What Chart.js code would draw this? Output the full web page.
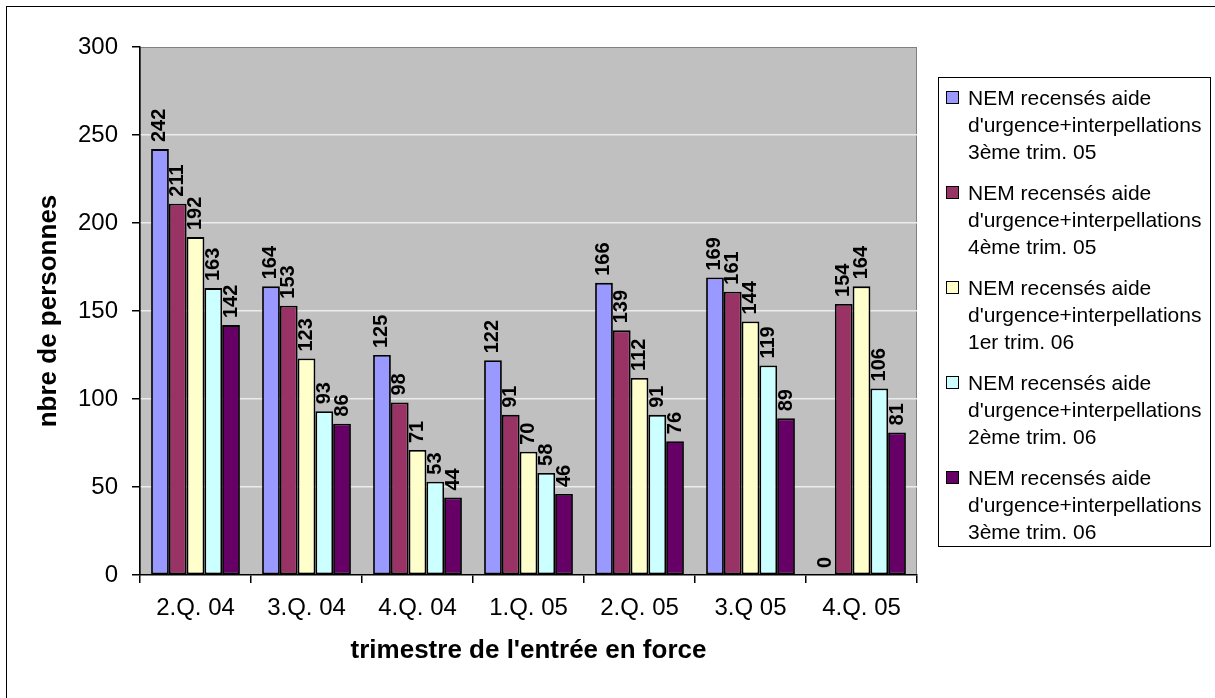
<!DOCTYPE html>
<html>
<head>
<meta charset="utf-8">
<script src="https://cdn.jsdelivr.net/npm/chart.js@4"></script>
<style>
  html, body { margin: 0; padding: 0; background: #fff; overflow: hidden; }
  body { width: 1215px; height: 698px; position: relative; font-family: 'Liberation Sans', Arial, sans-serif; }
  .frame { position: absolute; left: 6px; top: 6px; width: 1230px; height: 720px; border: 1.5px solid #000; }
  canvas { position: absolute; left: 0; top: 0; }
  .legend {
    position: absolute; left: 938px; top: 77px; width: 273px; height: 470px;
    box-sizing: border-box; border: 1px solid #000; background: #fff;
    padding: 6px 0 0 0;
  }
  .legend .item { position: relative; padding-left: 29px; width: 244px; font-size: 21px; line-height: 27px; color: #000; margin-bottom: 14px; }
  .legend .sw { position: absolute; left: 7px; top: 7px; width: 11px; height: 11px; border: 1px solid #000; }
</style>
</head>
<body>
<div class="frame"></div>
<canvas id="myChart" width="1215" height="698"></canvas>
<div class="legend" id="legend"></div>

<script>
const quarters = ['2.Q. 04', '3.Q. 04', '4.Q. 04', '1.Q. 05', '2.Q. 05', '3.Q 05', '4.Q. 05']

const seriesNames = [
    "NEM recensés aide d'urgence+interpellations 3ème trim. 05",
    "NEM recensés aide d'urgence+interpellations 4ème trim. 05",
    "NEM recensés aide d'urgence+interpellations 1er trim. 06",
    "NEM recensés aide d'urgence+interpellations 2ème trim. 06",
    "NEM recensés aide d'urgence+interpellations 3ème trim. 06"
]

const trim3_05 = [242, 164, 125, 122, 166, 169, 0]
const trim4_05 = [211, 153, 98, 91, 139, 161, 154]
const trim1_06 = [192, 123, 71, 70, 112, 144, 164]
const trim2_06 = [163, 93, 53, 58, 91, 119, 106]
const trim3_06 = [142, 86, 44, 46, 76, 89, 81]

const yTicks = [0, 50, 100, 150, 200, 250, 300]

const colors = ['#9999FF', '#993366', '#FFFFCC', '#CCFFFF', '#660066']
const series = [trim3_05, trim4_05, trim1_06, trim2_06, trim3_06]

const font = "'Liberation Sans', Arial, sans-serif"

// grey plot background with its border
const plotArea = {
    id: 'plotArea',
    beforeDraw(chart) {
        const a = chart.chartArea
        const c = chart.ctx
        c.save()
        c.fillStyle = '#C0C0C0'
        c.fillRect(a.left, a.top, a.right - a.left, a.bottom - a.top)
        c.strokeStyle = '#808080'
        c.lineWidth = 1
        c.strokeRect(a.left + 0.5, a.top + 0.5, a.right - a.left - 1, a.bottom - a.top - 1)
        c.restore()
    }
}

// vertical value labels above each bar
const barValues = {
    id: 'barValues',
    afterDatasetsDraw(chart) {
        const c = chart.ctx
        c.save()
        c.fillStyle = '#000'
        c.font = 'bold 20px ' + font
        c.textAlign = 'left'
        c.textBaseline = 'middle'
        chart.data.datasets.forEach((ds, i) => {
            chart.getDatasetMeta(i).data.forEach((bar, j) => {
                c.save()
                c.translate(bar.x, bar.y - 7)
                c.rotate(-Math.PI / 2)
                c.fillText(String(ds.data[j]), 0, 0)
                c.restore()
            })
        })
        c.restore()
    }
}

const ctx = document.getElementById('myChart').getContext('2d')
const chart = new Chart(ctx, {
    type: 'bar',
    data: {
        labels: quarters,
        datasets: series.map((s, i) => ({
            label: seriesNames[i],
            data: s,
            backgroundColor: colors[i],
            borderColor: '#000',
            borderWidth: 1.8,
            borderSkipped: false,
            barPercentage: 1,
            categoryPercentage: 0.8
        }))
    },
    options: {
        responsive: false,
        animation: false,
        devicePixelRatio: 1,
        layout: { padding: { left: 6, top: 47, right: 298, bottom: 10 } },
        plugins: {
            legend: { display: false },
            tooltip: { enabled: false }
        },
        scales: {
            x: {
                afterFit(scale) { scale.height = 113 },
                grid: { drawOnChartArea: false, tickLength: 8, color: '#000', tickColor: '#000', lineWidth: 1.5 },
                border: { color: '#000', width: 1.5 },
                ticks: { color: '#000', padding: 11, font: { family: font, size: 24 } },
                title: {
                    display: true,
                    text: "trimestre de l'entrée en force",
                    color: '#000',
                    font: { family: font, size: 26, weight: 'bold' },
                    padding: { bottom: 22 }
                }
            },
            y: {
                min: 0,
                max: 300,
                afterFit(scale) { scale.width = 134 },
                afterBuildTicks(scale) { scale.ticks = yTicks.map(v => ({ value: v })) },
                grid: {
                    tickLength: 8,
                    tickColor: '#000',
                    tickWidth: 1.5,
                    color: ctx => (ctx.tick && (ctx.tick.value === 0 || ctx.tick.value === 300)) ? 'rgba(0,0,0,0)' : '#ececec',
                    lineWidth: 1.5
                },
                border: { color: '#000', width: 1.5 },
                ticks: { color: '#000', padding: 14, font: { family: font, size: 24 } },
                title: {
                    display: true,
                    text: 'nbre de personnes',
                    color: '#000',
                    font: { family: font, size: 26, weight: 'bold' },
                    padding: { top: 27 }
                }
            }
        }
    },
    plugins: [plotArea, barValues]
})

// legend box on the right
const legend = document.getElementById('legend')
seriesNames.forEach((name, i) => {
    const item = document.createElement('div')
    item.className = 'item'
    const sw = document.createElement('span')
    sw.className = 'sw'
    sw.style.background = colors[i]
    item.appendChild(sw)
    item.appendChild(document.createTextNode(name))
    legend.appendChild(item)
})
</script>
</body>
</html>
